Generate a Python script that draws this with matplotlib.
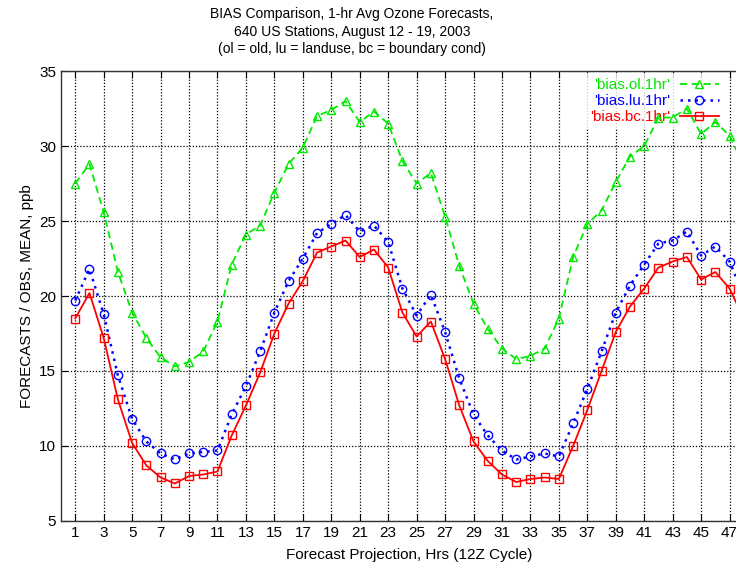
import matplotlib
matplotlib.use("Agg")
import matplotlib.pyplot as plt

plt.rcParams["font.family"] = ["Liberation Sans", "DejaVu Sans"]

hours = list(range(1, 49))

bias_ol = [27.5, 28.8, 25.6, 21.6, 18.9, 17.2, 15.9, 15.3, 15.6, 16.3,
           18.3, 22.1, 24.1, 24.7, 26.9, 28.8, 29.9, 32.0, 32.4, 33.0,
           31.6, 32.3, 31.5, 29.0, 27.5, 28.2, 25.3, 22.0, 19.5, 17.8,
           16.5, 15.8, 16.0, 16.5, 18.5, 22.6, 24.8, 25.7, 27.6, 29.3,
           30.0, 31.9, 31.9, 32.5, 30.8, 31.6, 30.7, 28.7]

bias_lu = [19.7, 21.8, 18.8, 14.7, 11.8, 10.3, 9.5, 9.1, 9.5, 9.6,
           9.7, 12.1, 14.0, 16.3, 18.9, 21.0, 22.5, 24.2, 24.8, 25.4,
           24.3, 24.7, 23.6, 20.5, 18.7, 20.1, 17.6, 14.5, 12.1, 10.7,
           9.7, 9.1, 9.3, 9.5, 9.3, 11.5, 13.8, 16.3, 18.9, 20.7,
           22.1, 23.5, 23.7, 24.3, 22.7, 23.3, 22.3, 20.0]

bias_bc = [18.5, 20.2, 17.2, 13.1, 10.2, 8.7, 7.9, 7.5, 8.0, 8.1,
           8.3, 10.7, 12.7, 14.9, 17.5, 19.5, 21.0, 22.9, 23.3, 23.7,
           22.6, 23.1, 21.9, 18.9, 17.3, 18.3, 15.8, 12.7, 10.3, 9.0,
           8.1, 7.6, 7.8, 7.9, 7.8, 10.0, 12.4, 15.0, 17.6, 19.3,
           20.5, 21.9, 22.3, 22.6, 21.1, 21.6, 20.5, 18.5]

labels = ["'bias.ol.1hr'", "'bias.lu.1hr'", "'bias.bc.1hr'"]
colors = ["#00ea00", "#0000ff", "#ff0000"]

fig = plt.figure(figsize=(7.36, 5.71), dpi=100)
ax = fig.add_axes([0.0829, 0.0876, 0.947, 0.788])

ax.plot(hours, bias_ol, color=colors[0], ls=(0, (4, 2.5)), lw=1.3, marker="^",
        ms=6, mfc="none", mew=1.0, label=labels[0], zorder=4)
ax.plot(hours, bias_lu, color=colors[1], ls=(0, (1, 2)), lw=1.8, marker="o",
        ms=6, mfc="none", mew=1.0, label=labels[1], zorder=4)
ax.plot(hours, bias_bc, color=colors[2], ls="-", lw=1.3, marker="s",
        ms=6, mfc="none", mew=1.0, label=labels[2], zorder=4)

ax.set_xlim(0, 49)
ax.set_ylim(5, 35)
ax.set_xticks(range(1, 49, 2))
ax.set_yticks(range(5, 36, 5))
ax.tick_params(direction="in", top=True, right=True, length=5, labelsize=11)
ax.set_axisbelow(True)
ax.grid(True, color="black", ls=(0, (1, 1.5)), lw=0.9)
for s in ax.spines.values():
    s.set_linewidth(1.0)
    s.set_color("#333333")

ax.set_xlabel("Forecast Projection, Hrs (12Z Cycle)", fontsize=11, labelpad=6)
ax.set_ylabel("FORECASTS / OBS, MEAN, ppb", fontsize=11, labelpad=4)

# three-line heading, centred a bit left of the axes centre as in the original
fig.text(0.478, 0.987, "BIAS Comparison, 1-hr Avg Ozone Forecasts,\n"
         "640 US Stations, August 12 - 19, 2003\n"
         "(ol = old, lu = landuse, bc = boundary cond)",
         ha="center", va="top", fontsize=10, linespacing=1.3)

leg = ax.legend(loc="upper right", bbox_to_anchor=(0.962, 1.012), frameon=True,
                markerfirst=False, fontsize=11, handlelength=2.6,
                borderpad=0.3, labelspacing=0.15, handletextpad=0.6,
                fancybox=False)
leg.get_frame().set_facecolor("white")
leg.get_frame().set_edgecolor("none")
leg.set_zorder(3)
for t, c in zip(leg.get_texts(), colors):
    t.set_color(c)

fig.savefig("out.png", dpi=100)
